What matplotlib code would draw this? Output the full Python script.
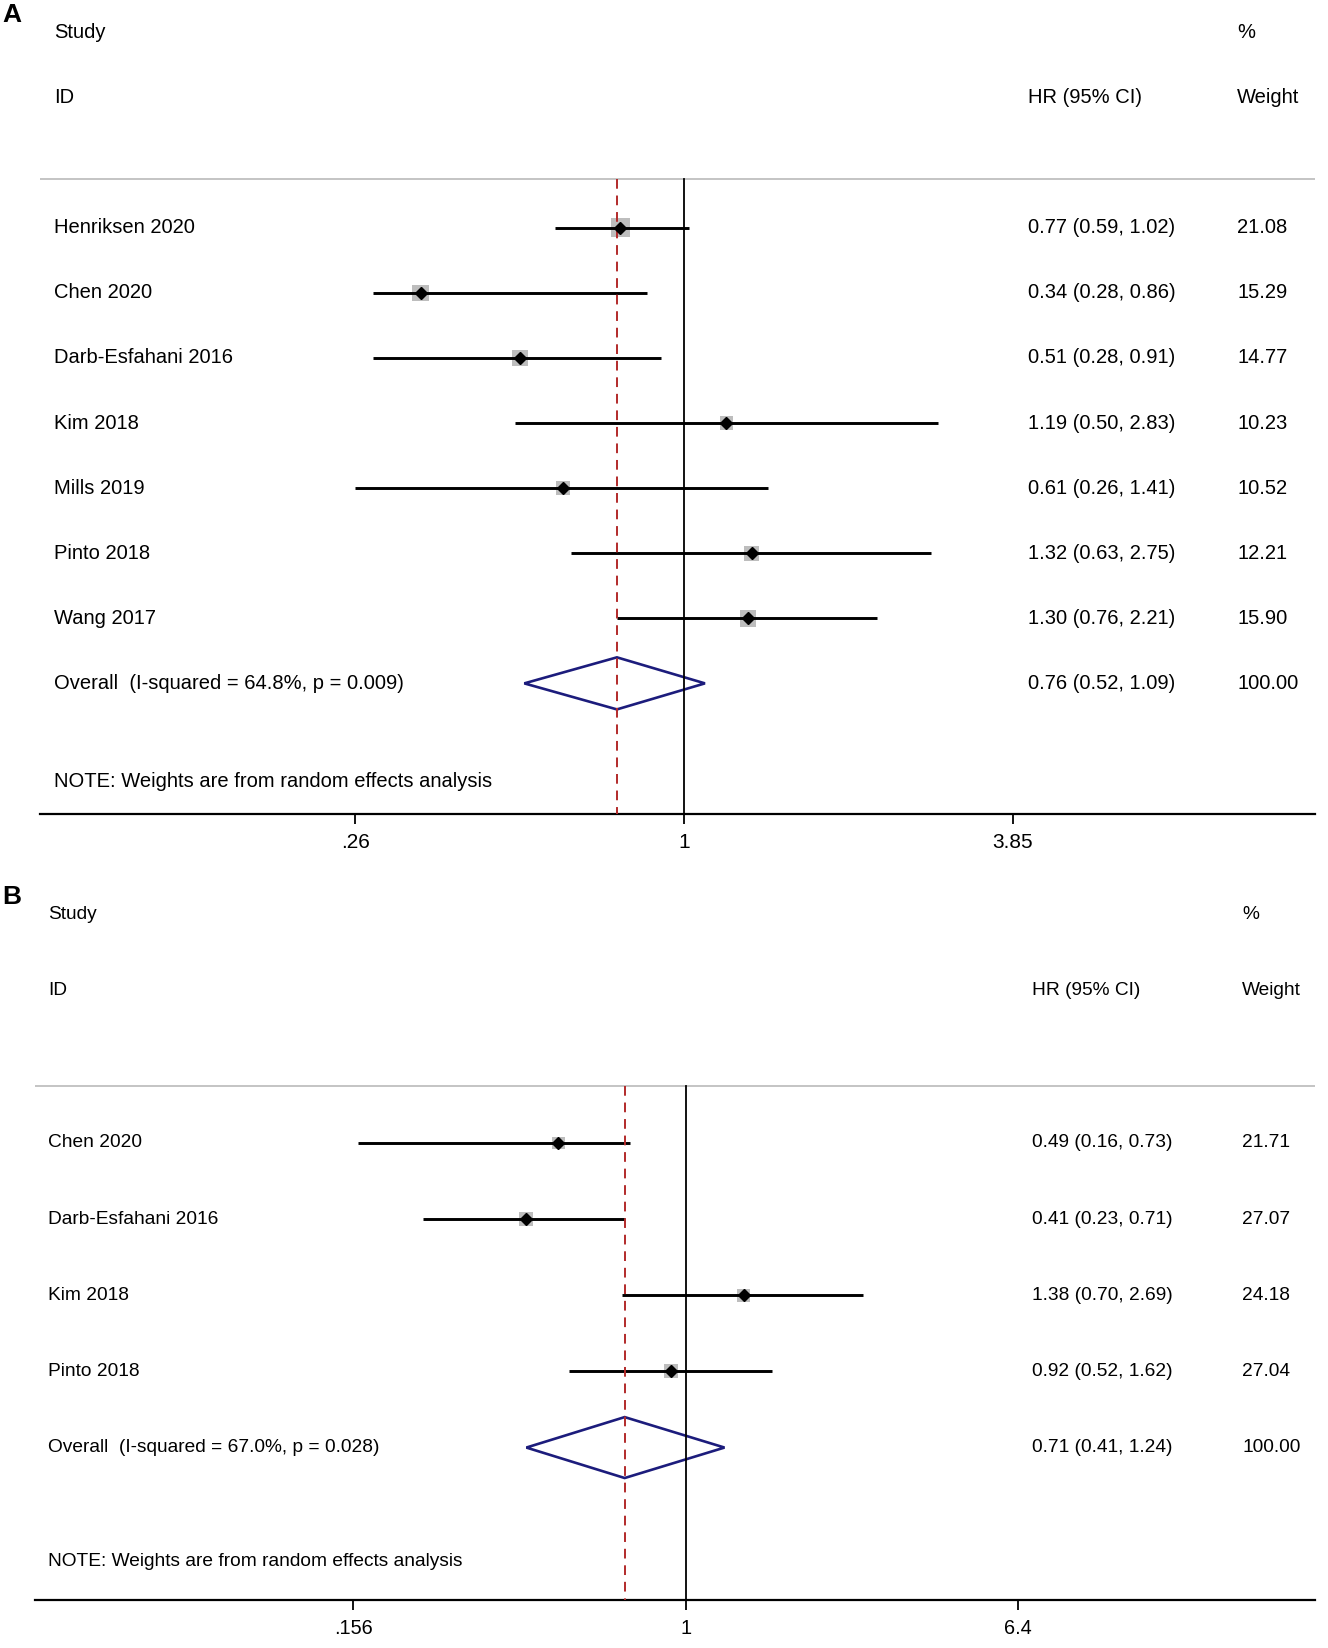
import matplotlib
matplotlib.use('Agg')
import matplotlib.pyplot as plt
from matplotlib.patches import Polygon
from matplotlib.transforms import blended_transform_factory
import numpy as np

plt.rcParams['font.family'] = ['Liberation Sans', 'DejaVu Sans']

# panel A data
studies_a = ['Henriksen 2020', 'Chen 2020', 'Darb-Esfahani 2016', 'Kim 2018',
             'Mills 2019', 'Pinto 2018', 'Wang 2017']
hr_a = [0.77, 0.34, 0.51, 1.19, 0.61, 1.32, 1.30]
lo_a = [0.59, 0.28, 0.28, 0.50, 0.26, 0.63, 0.76]
hi_a = [1.02, 0.86, 0.91, 2.83, 1.41, 2.75, 2.21]
wt_a = [21.08, 15.29, 14.77, 10.23, 10.52, 12.21, 15.90]
overall_a = (0.76, 0.52, 1.09)
overall_label_a = 'Overall  (I-squared = 64.8%, p = 0.009)'
ticks_a = [0.26, 1, 3.85]
ticklabels_a = ['.26', '1', '3.85']

# panel B data
studies_b = ['Chen 2020', 'Darb-Esfahani 2016', 'Kim 2018', 'Pinto 2018']
hr_b = [0.49, 0.41, 1.38, 0.92]
lo_b = [0.16, 0.23, 0.70, 0.52]
hi_b = [0.73, 0.71, 2.69, 1.62]
wt_b = [21.71, 27.07, 24.18, 27.04]
overall_b = (0.71, 0.41, 1.24)
overall_label_b = 'Overall  (I-squared = 67.0%, p = 0.028)'
ticks_b = [0.156, 1, 6.4]
ticklabels_b = ['.156', '1', '6.4']

W, H = 1270.0, 1576.0
fig = plt.figure(figsize=(13.28, 16.48), dpi=100)


def forest(rect, xlim, studies, hr, lo, hi, wt, overall, overall_label,
           ticks, ticklabels, col_x, box_ref, fs):
    n = len(studies)
    ax = fig.add_axes(rect)
    ax.set_xscale('log')
    ax.set_xlim(*xlim)
    ax.set_ylim(n + 2, -3.5)
    for s in ['top', 'left', 'right']:
        ax.spines[s].set_visible(False)
    ax.spines['bottom'].set_linewidth(1.6)
    ax.set_yticks([])
    ax.xaxis.set_minor_locator(matplotlib.ticker.NullLocator())
    ax.set_xticks(ticks)
    ax.set_xticklabels(ticklabels, fontsize=fs + 0.5)
    ax.tick_params(axis='x', direction='out', length=7, width=1.3, pad=7)

    tr = blended_transform_factory(fig.transFigure, ax.transData)
    lab_x, hr_x, wt_x = col_x

    # header
    ax.text(lab_x, -3, 'Study', transform=tr, fontsize=fs, va='center')
    ax.text(lab_x, -2, 'ID', transform=tr, fontsize=fs, va='center')
    ax.text(hr_x, -2, 'HR (95% CI)', transform=tr, fontsize=fs, va='center')
    ax.text(wt_x, -3, '%', transform=tr, fontsize=fs, va='center')
    ax.text(wt_x, -2, 'Weight', transform=tr, fontsize=fs, va='center')
    ax.axhline(-0.75, color='#c4c4c4', lw=1.4)

    # reference lines
    ax.plot([1, 1], [-0.75, n + 2], color='black', lw=1.3, zorder=4)
    ax.plot([overall[0]] * 2, [-0.75, n + 2], color='#b22a2a', lw=1.4,
            dashes=(5, 3.5), zorder=5)

    y = np.arange(n)
    ax.hlines(y, lo, hi, color='black', lw=2.1, zorder=3)
    sizes = (box_ref[0] * np.sqrt(np.array(wt) / box_ref[1])) ** 2
    ax.scatter(hr, y, s=sizes, marker='s', color='#bdbdbd', lw=0, zorder=2)
    ax.plot(hr, y, 'D', color='black', ms=6.3, zorder=6)

    for i in range(n):
        ax.text(lab_x, i, studies[i], transform=tr, fontsize=fs, va='center')
        ax.text(hr_x, i, f'{hr[i]:.2f} ({lo[i]:.2f}, {hi[i]:.2f})',
                transform=tr, fontsize=fs, va='center')
        ax.text(wt_x, i, f'{wt[i]:.2f}', transform=tr, fontsize=fs, va='center')

    est, olo, ohi = overall
    dia = Polygon([(olo, n), (est, n - 0.4), (ohi, n), (est, n + 0.4)],
                  closed=True, fill=False, edgecolor='#1c1c7c', lw=1.9, zorder=3)
    ax.add_patch(dia)
    ax.text(lab_x, n, overall_label, transform=tr, fontsize=fs, va='center')
    ax.text(hr_x, n, f'{est:.2f} ({olo:.2f}, {ohi:.2f})', transform=tr,
            fontsize=fs, va='center')
    ax.text(wt_x, n, '100.00', transform=tr, fontsize=fs, va='center')
    ax.text(lab_x, n + 1.5, 'NOTE: Weights are from random effects analysis',
            transform=tr, fontsize=fs, va='center')
    return ax


forest([38 / W, 1 - 778 / H, 1220 / W, 778 / H - 0.0], (0.0714, 13.30),
       studies_a, hr_a, lo_a, hi_a, wt_a, overall_a, overall_label_a,
       ticks_a, ticklabels_a, (52 / W, 983 / W, 1183 / W), (13.8, 21.08), 14.5)

forest([33 / W, 1 - 1530 / H, 1225 / W, (1530 - 838) / H], (0.02627, 33.66),
       studies_b, hr_b, lo_b, hi_b, wt_b, overall_b, overall_label_b,
       ticks_b, ticklabels_b, (46 / W, 987 / W, 1188 / W), (10.2, 27.07), 13.8)

fig.text(2 / W, 1 - 14 / H, 'A', fontsize=19, fontweight='bold', va='center')
fig.text(2 / W, 1 - 858 / H, 'B', fontsize=19, fontweight='bold', va='center')

fig.savefig('out.png', dpi=100)
